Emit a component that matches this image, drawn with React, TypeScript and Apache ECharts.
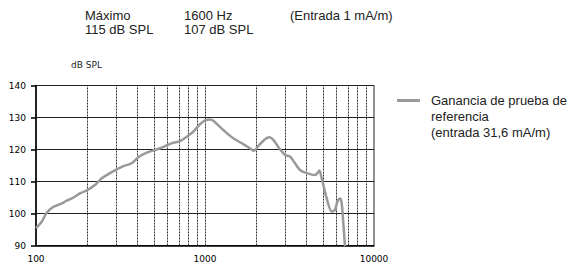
import React, { useEffect, useRef } from "react";
import * as echarts from "echarts";

const freqs = [100, 108, 116, 127, 139, 152, 163, 182, 201, 223, 245, 274, 300, 329, 368, 403, 452, 501, 542, 601, 649, 711, 779, 853, 934, 1009, 1071, 1120, 1283, 1470, 1685, 1845, 1950, 2067, 2264, 2401, 2535, 2778, 2973, 3184, 3409, 3649, 3998, 4478, 4621, 4749, 4904, 5252, 5619, 5877, 6066, 6295, 6440, 6583, 6735];
const gain = [95.4, 97.4, 100.3, 102.1, 102.9, 104, 104.7, 106.3, 107.3, 108.9, 111, 112.6, 113.8, 114.8, 115.7, 117.6, 119, 119.8, 120.4, 121.4, 122.1, 122.6, 124, 125.6, 127.9, 129.2, 129.4, 129, 126.1, 123.5, 121.7, 120.4, 119.6, 121.1, 123.2, 123.8, 123, 120.1, 118.3, 117.8, 115.7, 113.6, 112.6, 112, 112.6, 113.4, 111, 104.7, 100.6, 101.1, 103.7, 104.7, 103.2, 96.9, 89.8];
const verticalGrid = [200, 300, 400, 500, 600, 700, 800, 900, 1000, 2000, 3000, 4000, 5000, 6000, 7000, 8000, 9000];
const headerCols = [
  ["Máximo", "115 dB SPL"],
  ["1600 Hz", "107 dB SPL"],
  ["(Entrada 1 mA/m)", ""],
];
const legendLines = ["Ganancia de prueba de", "referencia", "(entrada 31,6 mA/m)"];
const yUnit = "dB SPL";

export default function App() {
  const ref = useRef<HTMLDivElement>(null);
  useEffect(() => {
    if (!ref.current) return;
    const chart = echarts.init(ref.current, null, { renderer: "svg" });
    const font = "'Liberation Sans', Arial, sans-serif";
    const headerX = [85, 184, 290];
    const graphic: any[] = [];
    headerCols.forEach((col, i) => {
      graphic.push({
        type: "text",
        left: headerX[i],
        top: 9,
        style: { text: col[0], font: `13px ${font}`, fill: "#222" },
      });
      if (col[1])
        graphic.push({
          type: "text",
          left: headerX[i],
          top: 23,
          style: { text: col[1], font: `13px ${font}`, fill: "#222" },
        });
    });
    graphic.push({
      type: "text",
      left: 71,
      top: 60,
      style: { text: yUnit, font: `9px 'DejaVu Sans', sans-serif`, fill: "#222" },
    });
    graphic.push({
      type: "line",
      shape: { x1: 397, y1: 100.5, x2: 420, y2: 100.5 },
      style: { stroke: "#999", lineWidth: 3 },
    });
    legendLines.forEach((t, i) => {
      graphic.push({
        type: "text",
        left: 431,
        top: 94 + i * 16,
        style: { text: t, font: `13px ${font}`, fill: "#222" },
      });
    });

    chart.setOption({
      animation: false,
      grid: {
        left: 36,
        right: 199,
        top: 85.5,
        bottom: 19.5,
        show: true,
        borderColor: "#222",
        borderWidth: 1,
      },
      xAxis: {
        type: "log",
        logBase: 10,
        min: 100,
        max: 10000,
        axisLine: { show: true, lineStyle: { color: "#000", width: 1.5 } },
        axisTick: { show: false },
        splitLine: { show: false },
        axisLabel: {
          margin: 9,
          fontFamily: "'DejaVu Sans', sans-serif",
          fontSize: 9,
          color: "#000",
          formatter: (v: number) => String(Math.round(v)),
        },
      },
      yAxis: {
        type: "value",
        min: 90,
        max: 140,
        interval: 10,
        axisLine: { show: true, lineStyle: { color: "#000", width: 1.5 } },
        axisTick: { show: true, length: 5, lineStyle: { color: "#000", width: 1.5 } },
        splitLine: { show: true, lineStyle: { color: "#222", width: 1 } },
        axisLabel: {
          margin: 10,
          fontFamily: "'DejaVu Sans', sans-serif",
          fontSize: 9,
          color: "#000",
        },
      },
      series: [
        {
          type: "line",
          data: freqs.map((f, i) => [f, gain[i]]),
          showSymbol: false,
          smooth: 0.3,
          lineStyle: { color: "#999", width: 2.5 },
          z: 5,
          markLine: {
            silent: true,
            symbol: "none",
            label: { show: false },
            lineStyle: { color: "#333", width: 1, type: [2, 1] },
            data: verticalGrid.map((v) => ({ xAxis: v })),
            z: 1,
          },
        },
      ],
      graphic,
    });
    return () => chart.dispose();
  }, []);
  return (
    <div
      ref={ref}
      style={{ position: "fixed", left: 0, top: 0, width: 573, height: 265, background: "#fff" }}
    />
  );
}
